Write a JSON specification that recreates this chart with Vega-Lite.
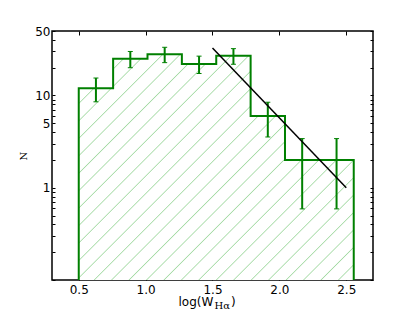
{
  "$schema": "https://vega.github.io/schema/vega-lite/v6.json",
  "width": 321,
  "height": 249,
  "autosize": {"type": "none"},
  "padding": {"left": 52, "top": 31, "right": 42, "bottom": 32},
  "background": "white",
  "config": {
    "view": {"stroke": "black", "strokeWidth": 1.5},
    "axis": {"grid": false, "domain": false, "tickColor": "black", "tickWidth": 1, "labelColor": "black", "labelFont": "DejaVu Sans", "labelFontSize": 12, "labelFlush": false, "labelOverlap": false}
  },
  "datasets": {
    "hist": [
      {"x0": 0.5, "x1": 0.757, "xc": 0.6285, "n": 12, "lo": 8.54, "hi": 15.46},
      {"x0": 0.757, "x1": 1.014, "xc": 0.8855, "n": 25, "lo": 20, "hi": 30},
      {"x0": 1.014, "x1": 1.271, "xc": 1.1425, "n": 28, "lo": 22.7, "hi": 33.3},
      {"x0": 1.271, "x1": 1.528, "xc": 1.3995, "n": 22, "lo": 17.3, "hi": 26.7},
      {"x0": 1.528, "x1": 1.785, "xc": 1.6565, "n": 27, "lo": 21.8, "hi": 32.2},
      {"x0": 1.785, "x1": 2.042, "xc": 1.9135, "n": 6, "lo": 3.55, "hi": 8.45},
      {"x0": 2.042, "x1": 2.299, "xc": 2.1705, "n": 2, "lo": 0.59, "hi": 3.41},
      {"x0": 2.299, "x1": 2.556, "xc": 2.4275, "n": 2, "lo": 0.59, "hi": 3.41}
    ],
    "fit": [
      {"x": 1.5, "y": 32.7},
      {"x": 2.5, "y": 1.0}
    ]
  },
  "resolve": {"axis": {"x": "independent", "y": "independent"}},
  "layer": [
    {
      "data": {"name": "hist"},
      "transform": [{"fold": ["x0", "x1"], "as": ["edge", "xpos"]}],
      "mark": {
        "type": "area",
        "orient": "vertical",
        "clip": true,
        "stroke": "#008000",
        "strokeWidth": 2,
        "strokeJoin": "miter",
        "fill": {
          "gradient": "linear",
          "x1": 0, "y1": 0, "x2": 1.03886, "y2": 0.95784,
          "stops": [
            {"offset": 0.0249, "color": "#ffffff"}, {"offset": 0.0271, "color": "#a6dba6"}, {"offset": 0.0293, "color": "#ffffff"},
            {"offset": 0.0579, "color": "#ffffff"}, {"offset": 0.0601, "color": "#a6dba6"}, {"offset": 0.0623, "color": "#ffffff"},
            {"offset": 0.0909, "color": "#ffffff"}, {"offset": 0.0931, "color": "#a6dba6"}, {"offset": 0.0953, "color": "#ffffff"},
            {"offset": 0.1239, "color": "#ffffff"}, {"offset": 0.1261, "color": "#a6dba6"}, {"offset": 0.1283, "color": "#ffffff"},
            {"offset": 0.1570, "color": "#ffffff"}, {"offset": 0.1592, "color": "#a6dba6"}, {"offset": 0.1614, "color": "#ffffff"},
            {"offset": 0.1900, "color": "#ffffff"}, {"offset": 0.1922, "color": "#a6dba6"}, {"offset": 0.1944, "color": "#ffffff"},
            {"offset": 0.2230, "color": "#ffffff"}, {"offset": 0.2252, "color": "#a6dba6"}, {"offset": 0.2274, "color": "#ffffff"},
            {"offset": 0.2560, "color": "#ffffff"}, {"offset": 0.2582, "color": "#a6dba6"}, {"offset": 0.2604, "color": "#ffffff"},
            {"offset": 0.2890, "color": "#ffffff"}, {"offset": 0.2912, "color": "#a6dba6"}, {"offset": 0.2934, "color": "#ffffff"},
            {"offset": 0.3220, "color": "#ffffff"}, {"offset": 0.3242, "color": "#a6dba6"}, {"offset": 0.3264, "color": "#ffffff"},
            {"offset": 0.3551, "color": "#ffffff"}, {"offset": 0.3573, "color": "#a6dba6"}, {"offset": 0.3595, "color": "#ffffff"},
            {"offset": 0.3881, "color": "#ffffff"}, {"offset": 0.3903, "color": "#a6dba6"}, {"offset": 0.3925, "color": "#ffffff"},
            {"offset": 0.4211, "color": "#ffffff"}, {"offset": 0.4233, "color": "#a6dba6"}, {"offset": 0.4255, "color": "#ffffff"},
            {"offset": 0.4541, "color": "#ffffff"}, {"offset": 0.4563, "color": "#a6dba6"}, {"offset": 0.4585, "color": "#ffffff"},
            {"offset": 0.4871, "color": "#ffffff"}, {"offset": 0.4893, "color": "#a6dba6"}, {"offset": 0.4915, "color": "#ffffff"},
            {"offset": 0.5201, "color": "#ffffff"}, {"offset": 0.5223, "color": "#a6dba6"}, {"offset": 0.5245, "color": "#ffffff"},
            {"offset": 0.5532, "color": "#ffffff"}, {"offset": 0.5554, "color": "#a6dba6"}, {"offset": 0.5576, "color": "#ffffff"},
            {"offset": 0.5862, "color": "#ffffff"}, {"offset": 0.5884, "color": "#a6dba6"}, {"offset": 0.5906, "color": "#ffffff"},
            {"offset": 0.6192, "color": "#ffffff"}, {"offset": 0.6214, "color": "#a6dba6"}, {"offset": 0.6236, "color": "#ffffff"},
            {"offset": 0.6522, "color": "#ffffff"}, {"offset": 0.6544, "color": "#a6dba6"}, {"offset": 0.6566, "color": "#ffffff"},
            {"offset": 0.6852, "color": "#ffffff"}, {"offset": 0.6874, "color": "#a6dba6"}, {"offset": 0.6896, "color": "#ffffff"},
            {"offset": 0.7182, "color": "#ffffff"}, {"offset": 0.7204, "color": "#a6dba6"}, {"offset": 0.7226, "color": "#ffffff"},
            {"offset": 0.7513, "color": "#ffffff"}, {"offset": 0.7535, "color": "#a6dba6"}, {"offset": 0.7557, "color": "#ffffff"},
            {"offset": 0.7843, "color": "#ffffff"}, {"offset": 0.7865, "color": "#a6dba6"}, {"offset": 0.7887, "color": "#ffffff"},
            {"offset": 0.8173, "color": "#ffffff"}, {"offset": 0.8195, "color": "#a6dba6"}, {"offset": 0.8217, "color": "#ffffff"},
            {"offset": 0.8503, "color": "#ffffff"}, {"offset": 0.8525, "color": "#a6dba6"}, {"offset": 0.8547, "color": "#ffffff"},
            {"offset": 0.8833, "color": "#ffffff"}, {"offset": 0.8855, "color": "#a6dba6"}, {"offset": 0.8877, "color": "#ffffff"},
            {"offset": 0.9163, "color": "#ffffff"}, {"offset": 0.9185, "color": "#a6dba6"}, {"offset": 0.9207, "color": "#ffffff"},
            {"offset": 0.9494, "color": "#ffffff"}, {"offset": 0.9516, "color": "#a6dba6"}, {"offset": 0.9538, "color": "#ffffff"},
            {"offset": 0.9824, "color": "#ffffff"}, {"offset": 0.9846, "color": "#a6dba6"}, {"offset": 0.9868, "color": "#ffffff"}
          ]
        }
      },
      "encoding": {
        "x": {"field": "xpos", "type": "quantitative", "scale": {"domain": [0.3, 2.7], "nice": false, "zero": false},
              "axis": {"orient": "bottom", "values": [0.5, 1, 1.5, 2, 2.5], "format": ".1f", "tickSize": -4, "labelPadding": 8, "title": null}},
        "y": {"field": "n", "type": "quantitative", "scale": {"type": "log", "domain": [0.1, 50], "nice": false},
              "axis": {"orient": "left", "values": [0.1, 0.2, 0.3, 0.4, 0.5, 0.6, 0.7, 0.8, 0.9, 1, 2, 3, 4, 5, 6, 7, 8, 9, 10, 20, 30, 40, 50],
                       "format": "d", "labelExpr": "datum.value == 1 || datum.value == 5 || datum.value == 10 || datum.value == 50 ? datum.label : ''",
                       "tickSize": -3, "labelPadding": 5, "title": "N", "titleFont": "DejaVu Serif", "titleFontSize": 10, "titleFontWeight": "normal", "titleColor": "black", "titlePadding": 6}},
        "y2": {"datum": 0.05},
        "order": [{"field": "xpos", "type": "quantitative"}, {"field": "edge", "type": "ordinal", "sort": "descending"}]
      }
    },
    {
      "data": {"name": "hist"},
      "mark": {"type": "rule", "stroke": "#008000", "strokeWidth": 2},
      "encoding": {
        "x": {"field": "xc", "type": "quantitative", "scale": {"domain": [0.3, 2.7], "nice": false, "zero": false},
              "axis": {"orient": "top", "values": [0.5, 1, 1.5, 2, 2.5], "labels": false, "tickSize": -4, "title": null}},
        "y": {"field": "lo", "type": "quantitative", "scale": {"type": "log", "domain": [0.1, 50], "nice": false},
              "axis": {"orient": "right", "values": [0.1, 0.2, 0.3, 0.4, 0.5, 0.6, 0.7, 0.8, 0.9, 1, 2, 3, 4, 5, 6, 7, 8, 9, 10, 20, 30, 40, 50], "labels": false, "tickSize": -3, "title": null}},
        "y2": {"field": "hi"}
      }
    },
    {
      "data": {"name": "hist"},
      "mark": {"type": "tick", "orient": "horizontal", "size": 5, "thickness": 1, "color": "#008000", "opacity": 1},
      "encoding": {
        "x": {"field": "xc", "type": "quantitative", "scale": {"domain": [0.3, 2.7], "nice": false, "zero": false}, "axis": null},
        "y": {"field": "lo", "type": "quantitative", "scale": {"type": "log", "domain": [0.1, 50], "nice": false}, "axis": null}
      }
    },
    {
      "data": {"name": "hist"},
      "mark": {"type": "tick", "orient": "horizontal", "size": 5, "thickness": 1, "color": "#008000", "opacity": 1},
      "encoding": {
        "x": {"field": "xc", "type": "quantitative", "scale": {"domain": [0.3, 2.7], "nice": false, "zero": false}, "axis": null},
        "y": {"field": "hi", "type": "quantitative", "scale": {"type": "log", "domain": [0.1, 50], "nice": false}, "axis": null}
      }
    },
    {
      "data": {"name": "fit"},
      "mark": {"type": "line", "color": "black", "strokeWidth": 1.5},
      "encoding": {
        "x": {"field": "x", "type": "quantitative", "scale": {"domain": [0.3, 2.7], "nice": false, "zero": false}, "axis": null},
        "y": {"field": "y", "type": "quantitative", "scale": {"type": "log", "domain": [0.1, 50], "nice": false}, "axis": null}
      }
    },
    {
      "data": {"values": [{"t": "log(W"}]},
      "mark": {"type": "text", "align": "right", "baseline": "alphabetic", "dx": 0.8, "dy": 26, "font": "DejaVu Sans", "fontSize": 12, "color": "black"},
      "encoding": {
        "x": {"datum": 1.5, "type": "quantitative", "scale": {"domain": [0.3, 2.7], "nice": false, "zero": false}, "axis": null},
        "y": {"datum": 0.1, "type": "quantitative", "scale": {"type": "log", "domain": [0.1, 50], "nice": false}, "axis": null},
        "text": {"field": "t"}
      }
    },
    {
      "data": {"values": [{"t": "Hα"}]},
      "mark": {"type": "text", "align": "left", "baseline": "alphabetic", "dx": 2, "dy": 28.5, "font": "DejaVu Serif", "fontSize": 10, "color": "black"},
      "encoding": {
        "x": {"datum": 1.5, "type": "quantitative", "scale": {"domain": [0.3, 2.7], "nice": false, "zero": false}, "axis": null},
        "y": {"datum": 0.1, "type": "quantitative", "scale": {"type": "log", "domain": [0.1, 50], "nice": false}, "axis": null},
        "text": {"field": "t"}
      }
    },
    {
      "data": {"values": [{"t": ")"}]},
      "mark": {"type": "text", "align": "left", "baseline": "alphabetic", "dx": 18.5, "dy": 26, "font": "DejaVu Sans", "fontSize": 12, "color": "black"},
      "encoding": {
        "x": {"datum": 1.5, "type": "quantitative", "scale": {"domain": [0.3, 2.7], "nice": false, "zero": false}, "axis": null},
        "y": {"datum": 0.1, "type": "quantitative", "scale": {"type": "log", "domain": [0.1, 50], "nice": false}, "axis": null},
        "text": {"field": "t"}
      }
    }
  ]
}
